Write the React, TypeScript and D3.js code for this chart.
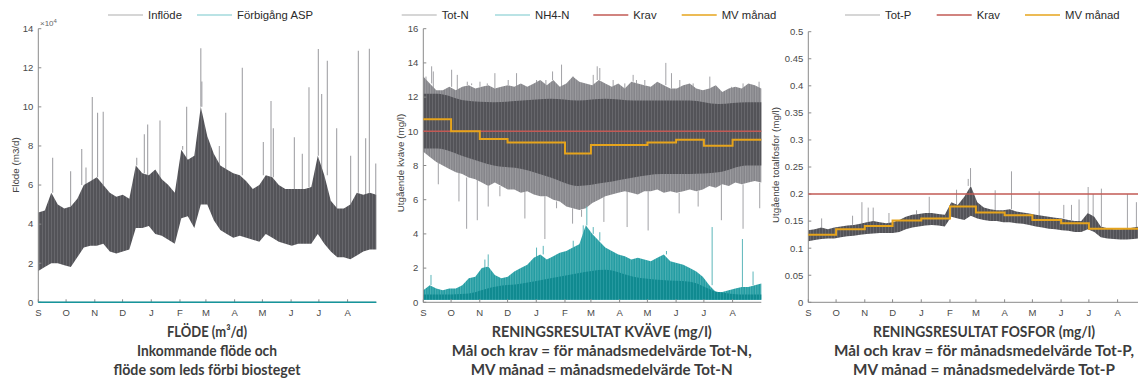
import React from "react";
import * as d3 from "d3";

// ---------- time frame ----------
const START = new Date(Date.UTC(2018, 8, 1));
const END = new Date(Date.UTC(2019, 8, 1));
const monthInitials = ["S", "O", "N", "D", "J", "F", "M", "A", "M", "J", "J", "A"];

// ---------- Panel 1: flow (x10^4 m3/d), weekly envelope ----------
const flowLow = [1.6, 1.8, 2.0, 2.0, 1.9, 1.8, 2.3, 2.8, 2.9, 2.9, 3.0, 2.6, 2.5, 2.6, 2.7, 3.8, 3.8, 3.9, 3.5, 3.4, 3.2, 3.0, 4.3, 4.4, 3.8, 5.0, 5.0, 4.2, 3.7, 3.5, 3.3, 3.4, 3.3, 3.2, 3.1, 3.5, 3.3, 3.1, 3.0, 2.9, 3.0, 3.0, 3.0, 3.5, 3.0, 2.6, 2.3, 2.3, 2.2, 2.4, 2.6, 2.7, 2.7];
const flowHigh = [4.6, 4.7, 5.6, 5.0, 4.8, 4.9, 5.3, 6.0, 6.2, 6.4, 6.0, 5.6, 5.4, 5.5, 5.3, 7.0, 6.6, 6.5, 6.8, 6.3, 6.0, 5.6, 7.8, 7.3, 7.5, 10.0, 8.5, 7.6, 7.0, 6.8, 6.6, 6.5, 6.2, 5.8, 6.0, 6.5, 6.4, 6.0, 5.8, 5.8, 5.8, 5.8, 5.9, 7.5, 6.5, 5.2, 4.8, 4.8, 5.0, 5.6, 5.5, 5.6, 5.5];
const flowSpikeDays = [15.5, 34.9, 46.9, 51.5, 58.3, 64.0, 70.1, 106.3, 114.5, 118.1, 131.4, 155.9, 160.2, 175.5, 176.6, 195.5, 202.4, 220.3, 243, 251.3, 253.8, 276.5, 285.1, 292.3, 302.4, 306.0, 312.1, 322.2, 337.3, 345.6, 353.5, 357.5, 364.4];
const flowSpikeValues = [7.4, 6.7, 7.85, 6.9, 10.5, 9.7, 9.75, 7.4, 8.6, 9.1, 9.3, 8.0, 10.0, 13.0, 11.3, 8.0, 9.7, 12.0, 8.2, 10.3, 8.9, 8.45, 7.6, 11.0, 12.96, 10.66, 12.36, 8.9, 7.5, 12.87, 8.4, 12.97, 7.1];
const bypassFlow = [0, 0];
const flowTicks = [0, 2, 4, 6, 8, 10, 12, 14];

// ---------- Panel 2: nitrogen (mg/l) ----------
const totNLow = [8.8, 8.5, 8.2, 8.0, 7.8, 7.6, 7.5, 7.3, 7.2, 7.0, 6.8, 7.0, 6.8, 6.6, 6.6, 6.4, 6.5, 6.3, 6.2, 6.2, 6.0, 5.9, 5.6, 5.5, 5.4, 5.5, 5.8, 6.0, 6.2, 6.3, 6.4, 6.5, 6.4, 6.3, 6.5, 6.5, 6.6, 6.4, 6.5, 6.4, 6.5, 6.6, 6.5, 6.6, 6.8, 6.7, 6.9, 6.8, 7.0, 6.9, 7.0, 7.1, 7.0];
const totNHigh = [13.2, 12.8, 12.4, 12.4, 12.6, 12.4, 12.6, 12.7, 12.5, 12.6, 12.7, 12.5, 12.6, 12.7, 12.6, 12.8, 12.6, 12.8, 13.0, 12.7, 13.0, 12.6, 12.8, 13.2, 12.9, 12.8, 12.7, 13.0, 12.8, 12.6, 12.8, 12.5, 12.9, 12.8, 12.7, 12.6, 12.9, 12.7, 12.5, 12.5, 12.7, 12.8, 12.5, 12.4, 12.5, 12.7, 12.3, 12.5, 12.6, 12.5, 12.8, 12.7, 12.5];
const totNCoreLow = [9.0, 8.5, 8.0, 7.8, 7.3, 6.8, 7.0, 7.3, 7.5, 7.5, 7.6, 8.0];
const totNCoreHigh = [12.2, 11.8, 11.7, 11.8, 11.9, 11.8, 11.9, 11.8, 11.8, 11.8, 11.6, 11.7];
const totNUpDays = [2.9, 9.0, 10.8, 30.6, 36.7, 47.5, 52.2, 61.2, 69.1, 77.3, 91.7, 100.7, 122.3, 132.4, 139.6, 149.3, 154.7, 161.9, 183.5, 187.8, 190.6, 205.0, 217.6, 226.6, 230.2, 239.2, 261.9, 268.0, 277.0, 291.4, 309.4, 332.7, 345.3, 362.6];
const totNUpValues = [13.0, 13.8, 13.5, 13.6, 13.3, 12.9, 12.8, 12.9, 12.8, 13.4, 13.0, 13.4, 13.0, 13.0, 13.5, 13.9, 12.8, 12.6, 13.3, 13.8, 13.7, 13.0, 12.8, 13.3, 13.0, 13.0, 14.0, 13.4, 13.0, 12.8, 13.2, 12.6, 12.8, 12.9];
const totNDownDays = [16.2, 38.5, 46.8, 58.3, 70.1, 82.7, 109.7, 131.3, 143.9, 161.2, 170.9, 195.0, 220.1, 242.8, 276.3, 296.8, 321.9, 345.3, 363.3];
const totNDownValues = [6.9, 5.9, 4.3, 4.8, 5.6, 6.2, 4.9, 3.7, 5.5, 4.6, 5.0, 4.7, 4.4, 4.2, 5.2, 5.6, 4.8, 4.3, 5.5];
const nh4Floor = 0.15;
const nh4High = [0.7, 1.0, 0.8, 0.7, 0.8, 0.8, 1.0, 1.4, 1.5, 2.0, 2.1, 1.6, 1.4, 1.5, 1.8, 2.0, 2.2, 2.6, 2.8, 2.5, 2.7, 2.9, 3.0, 3.2, 3.4, 4.5, 4.0, 3.6, 3.2, 3.0, 2.8, 2.7, 2.5, 2.6, 2.5, 2.4, 2.6, 2.8, 2.4, 2.3, 2.2, 2.0, 1.8, 1.5, 1.0, 0.6, 0.6, 0.7, 0.8, 0.9, 0.9, 1.0, 1.1];
const nh4Core = [0.45, 0.5, 0.9, 1.1, 1.4, 1.7, 1.9, 1.5, 1.3, 1.2, 0.6, 0.45];
const nh4SpikeDays = [8.3, 66.5, 70.1, 122.3, 129.5, 161.9, 172.7, 176.6, 183.5, 190.6, 262.6, 311.9, 344.6, 356.1];
const nh4SpikeValues = [1.6, 2.5, 2.8, 3.2, 3.3, 3.6, 3.9, 5.6, 4.4, 4.1, 3.0, 4.4, 3.7, 1.8];
const totNMonthly = [10.7, 10.0, 9.55, 9.35, 9.35, 8.7, 9.2, 9.2, 9.35, 9.5, 9.15, 9.5];
const totNLimit = 10;
const totNTicks = [0, 2, 4, 6, 8, 10, 12, 14, 16];

// ---------- Panel 3: phosphorus (mg/l) ----------
const totPLow = [0.113, 0.115, 0.117, 0.118, 0.118, 0.12, 0.122, 0.123, 0.125, 0.126, 0.127, 0.128, 0.128, 0.128, 0.13, 0.135, 0.138, 0.14, 0.142, 0.143, 0.142, 0.14, 0.158, 0.155, 0.152, 0.16, 0.155, 0.152, 0.15, 0.15, 0.148, 0.148, 0.146, 0.145, 0.143, 0.14, 0.138, 0.136, 0.135, 0.133, 0.132, 0.13, 0.13, 0.135, 0.13, 0.12, 0.118, 0.117, 0.116, 0.116, 0.117, 0.118, 0.12];
const totPHigh = [0.133, 0.135, 0.138, 0.135, 0.138, 0.14, 0.142, 0.143, 0.145, 0.148, 0.15, 0.148, 0.146, 0.148, 0.152, 0.158, 0.162, 0.163, 0.165, 0.165, 0.163, 0.162, 0.185, 0.18, 0.195, 0.215, 0.185, 0.175, 0.172, 0.17, 0.17, 0.172, 0.168, 0.166, 0.164, 0.162, 0.16, 0.158, 0.156, 0.155, 0.152, 0.15, 0.15, 0.165, 0.158, 0.14, 0.137, 0.135, 0.135, 0.136, 0.138, 0.14, 0.14];
const totPSpikeDays = [14.4, 47.8, 57.9, 64.7, 70.1, 87.1, 116.9, 130.6, 160.1, 172.7, 175.2, 201.8, 219.4, 249.3, 275.9, 284.2, 292.4, 302.2, 307.6, 316.5, 344.6, 354.3];
const totPSpikeValues = [0.155, 0.16, 0.185, 0.175, 0.175, 0.165, 0.17, 0.195, 0.208, 0.228, 0.248, 0.207, 0.242, 0.205, 0.18, 0.18, 0.19, 0.213, 0.2, 0.21, 0.2, 0.185];
const totPMonthly = [0.125, 0.135, 0.141, 0.151, 0.155, 0.177, 0.166, 0.161, 0.152, 0.146, 0.136, 0.136];
const totPLimit = 0.2;
const totPTicks = [0, 0.05, 0.1, 0.15, 0.2, 0.25, 0.3, 0.35, 0.4, 0.45, 0.5];

// ---------- helpers ----------
const DAY = 864e5;
const dayDate = (d: number) => new Date(START.getTime() + d * DAY);
const sampleDate = (i: number, n: number) => dayDate((i * 365) / (n - 1));
const monthStart = (m: number) => d3.utcMonth.offset(START, m);
const monthMid = (m: number) => new Date((monthStart(m).getTime() + monthStart(m + 1).getTime()) / 2);

const C = {
  axis: "#8a8a8a",
  tick: "#4a4a4a",
  spike: "#a2a2a6",
  teal: "#16959b",
  tealSpike: "#5cb6ba",
  tealLeg: "#a3dadd",
  grayLeg: "#c9c9c9",
  krav: "#c25a55",
  mv: "#e6a41c",
  title: "#3c3c3c",
};
const TICK_FONT = "'Liberation Sans', Arial, sans-serif";
const TITLE_FONT = "Lato, 'Open Sans', sans-serif";

type Geo = { x0: number; x1: number; yTop: number; yBot: number; max: number };

function makeScales(g: Geo) {
  const x = d3.scaleUtc().domain([START, END]).range([g.x0, g.x1]);
  const y = d3.scaleLinear().domain([0, g.max]).range([g.yBot, g.yTop]);
  return { x, y };
}

function weeklyArea(x: any, y: any, low: number[], high: number[]) {
  const n = high.length;
  return d3
    .area<number>()
    .x((_, i) => x(sampleDate(i, n)))
    .y0((_, i) => y(low[i]))
    .y1((v) => y(v))(high) as string;
}

function monthlyArea(x: any, y: any, low: (m: number) => number, high: number[]) {
  const pts = [
    { d: START, lo: low(0), hi: high[0] },
    ...high.map((v, m) => ({ d: monthMid(m), lo: low(m), hi: v })),
    { d: END, lo: low(11), hi: high[11] },
  ];
  return d3
    .area<any>()
    .x((p) => x(p.d))
    .y0((p) => y(p.lo))
    .y1((p) => y(p.hi))
    .curve(d3.curveMonotoneX)(pts) as string;
}

function stepLine(x: any, y: any, vals: number[]) {
  const pts = [...vals.map((v, m) => ({ d: monthStart(m), v })), { d: END, v: vals[vals.length - 1] }];
  return d3
    .line<any>()
    .x((p) => x(p.d))
    .y((p) => y(p.v))
    .curve(d3.curveStepAfter)(pts) as string;
}

function nearest(arr: number[], day: number) {
  return arr[Math.round((day / 365) * (arr.length - 1))];
}

function Spikes({ x, y, days, values, base, color, width = 1 }: any) {
  return (
    <g stroke={color} strokeWidth={width}>
      {days.map((d: number, i: number) => (
        <line key={i} x1={x(dayDate(d))} x2={x(dayDate(d))} y1={y(nearest(base, d))} y2={y(values[i])} />
      ))}
    </g>
  );
}

function Axes({ x, y, g, ticks, fmt }: any) {
  const months = d3.utcMonth.range(START, END);
  return (
    <g fontFamily={TICK_FONT} fontSize={9.5} fill={C.tick}>
      <line x1={g.x0} x2={g.x0} y1={g.yBot} y2={y(g.max)} stroke={C.axis} strokeWidth={1} />
      <line x1={g.x0} x2={g.x1} y1={g.yBot} y2={g.yBot} stroke={C.axis} strokeWidth={1} />
      {ticks.map((t: number) => (
        <g key={t}>
          <line x1={g.x0} x2={g.x0 + 3} y1={y(t)} y2={y(t)} stroke={C.axis} />
          <text x={g.x0 - 5} y={y(t)} dy="0.35em" textAnchor="end">
            {fmt(t)}
          </text>
        </g>
      ))}
      {months.map((m, i) => (
        <g key={i}>
          <line x1={x(m)} x2={x(m)} y1={g.yBot} y2={g.yBot - 3} stroke={C.axis} />
          <text x={x(m)} y={316} textAnchor="middle">
            {monthInitials[i]}
          </text>
        </g>
      ))}
    </g>
  );
}

function Legend({ items }: { items: { x: number; label: string; color: string }[] }) {
  return (
    <g fontFamily={TICK_FONT} fontSize={11.3} fill="#2a2a2a">
      {items.map((it) => (
        <g key={it.label}>
          <line x1={it.x} x2={it.x + 35} y1={15} y2={15} stroke={it.color} strokeWidth={1.6} />
          <text x={it.x + 40} y={15} dy="0.35em">
            {it.label}
          </text>
        </g>
      ))}
    </g>
  );
}

function Title({ cx, lines }: { cx: number; lines: { t: string; w: number }[] }) {
  const ys = [337, 356, 374.5];
  return (
    <g fontFamily={TITLE_FONT} fontWeight={700} fontSize={15} fill={C.title} textAnchor="middle">
      {lines.map((l, i) => (
        <text key={i} x={cx} y={ys[i]} textLength={l.w} lengthAdjust="spacingAndGlyphs">
          {l.t}
        </text>
      ))}
    </g>
  );
}

function Stripes({ id, base, line, period = 3 }: { id: string; base: string; line: string; period?: number }) {
  return (
    <pattern id={id} width={period} height={6} patternUnits="userSpaceOnUse">
      <rect width={period} height={6} fill={base} />
      <rect width={1} height={6} fill={line} />
    </pattern>
  );
}

const numFmt = (v: number) => String(+v.toFixed(2));

export default function App() {
  const g1: Geo = { x0: 38.3, x1: 376.3, yTop: 28.7, yBot: 302.3, max: 14 };
  const s1 = makeScales(g1);
  const g2: Geo = { x0: 423.3, x1: 761.3, yTop: 28.7, yBot: 302.3, max: 16 };
  const s2 = makeScales(g2);
  const g3: Geo = { x0: 808.3, x1: 1146.3, yTop: 31.7, yBot: 302.3, max: 0.5 };
  const s3 = makeScales(g3);

  const bypassPath = d3
    .line<number>()
    .x((_, i) => s1.x(i === 0 ? START : END))
    .y((v) => s1.y(v))(bypassFlow) as string;

  return (
    <svg width={1138} height={381} style={{ position: "absolute", left: 0, top: 0, background: "#fff" }}>
      <defs>
        <Stripes id="texDark" base="#535358" line="#67676c" />
        <Stripes id="texMid" base="#85858a" line="#9c9ca0" period={2.5} />
        <Stripes id="texTeal" base="#108a90" line="#2599a0" />
        <Stripes id="texTealOuter" base="#239ca2" line="#4db1b5" period={2.5} />
      </defs>
      <rect width={1138} height={381} fill="#fff" />

      {/* ---------- Panel 1 ---------- */}
      <Legend
        items={[
          { x: 108, label: "Inflöde", color: C.grayLeg },
          { x: 197, label: "Förbigång ASP", color: C.tealLeg },
        ]}
      />
      <Spikes x={s1.x} y={s1.y} days={flowSpikeDays} values={flowSpikeValues} base={flowHigh} color={C.spike} width={1.1} />
      <path d={weeklyArea(s1.x, s1.y, flowLow, flowHigh)} fill="url(#texDark)" />
      <Axes x={s1.x} y={s1.y} g={g1} ticks={flowTicks} fmt={numFmt} />
      <path d={bypassPath} stroke={C.teal} strokeWidth={1.4} fill="none" />
      <text x={40} y={26} fontFamily={TICK_FONT} fontSize={8} fill="#666">
        ×10<tspan dy={-3} fontSize={6}>4</tspan>
      </text>
      <text transform={`translate(19,165) rotate(-90)`} textAnchor="middle" fontFamily={TICK_FONT} fontSize={9.8} fill="#444">
        Flöde (m3/d)
      </text>
      <Title
        cx={207}
        lines={[
          { t: "FLÖDE (m³/d)", w: 80 },
          { t: "Inkommande flöde och", w: 140 },
          { t: "flöde som leds förbi biosteget", w: 187 },
        ]}
      />

      {/* ---------- Panel 2 ---------- */}
      <Legend
        items={[
          { x: 401.7, label: "Tot-N", color: C.grayLeg },
          { x: 495, label: "NH4-N", color: C.tealLeg },
          { x: 593.3, label: "Krav", color: C.krav },
          { x: 681.7, label: "MV månad", color: C.mv },
        ]}
      />
      <Spikes x={s2.x} y={s2.y} days={totNUpDays} values={totNUpValues} base={totNHigh} color={C.spike} />
      <Spikes x={s2.x} y={s2.y} days={totNDownDays} values={totNDownValues} base={totNLow} color={C.spike} />
      <path d={weeklyArea(s2.x, s2.y, totNLow, totNHigh)} fill="url(#texMid)" />
      <path d={monthlyArea(s2.x, s2.y, (m) => totNCoreLow[m], totNCoreHigh)} fill="url(#texDark)" />
      <Spikes x={s2.x} y={s2.y} days={nh4SpikeDays} values={nh4SpikeValues} base={nh4High} color={C.tealSpike} />
      <path d={weeklyArea(s2.x, s2.y, nh4High.map(() => nh4Floor), nh4High)} fill="url(#texTealOuter)" />
      <path d={monthlyArea(s2.x, s2.y, () => nh4Floor, nh4Core)} fill="url(#texTeal)" />
      <Axes x={s2.x} y={s2.y} g={g2} ticks={totNTicks} fmt={numFmt} />
      <line x1={g2.x0} x2={g2.x1} y1={s2.y(totNLimit)} y2={s2.y(totNLimit)} stroke={C.krav} strokeWidth={1.4} />
      <path d={stepLine(s2.x, s2.y, totNMonthly)} stroke={C.mv} strokeWidth={2} fill="none" />
      <text transform={`translate(404,163) rotate(-90)`} textAnchor="middle" fontFamily={TICK_FONT} fontSize={9.8} fill="#444">
        Utgående kväve (mg/l)
      </text>
      <Title
        cx={601.7}
        lines={[
          { t: "RENINGSRESULTAT KVÄVE (mg/l)", w: 220 },
          { t: "Mål och krav = för månadsmedelvärde Tot-N,", w: 300 },
          { t: "MV månad = månadsmedelvärde Tot-N", w: 262 },
        ]}
      />

      {/* ---------- Panel 3 ---------- */}
      <Legend
        items={[
          { x: 845, label: "Tot-P", color: C.grayLeg },
          { x: 936.7, label: "Krav", color: C.krav },
          { x: 1025, label: "MV månad", color: C.mv },
        ]}
      />
      <Spikes x={s3.x} y={s3.y} days={totPSpikeDays} values={totPSpikeValues} base={totPHigh} color={C.spike} />
      <path d={weeklyArea(s3.x, s3.y, totPLow, totPHigh)} fill="url(#texDark)" />
      <Axes x={s3.x} y={s3.y} g={g3} ticks={totPTicks} fmt={numFmt} />
      <line x1={g3.x0} x2={g3.x1} y1={s3.y(totPLimit)} y2={s3.y(totPLimit)} stroke={C.krav} strokeWidth={1.4} />
      <path d={stepLine(s3.x, s3.y, totPMonthly)} stroke={C.mv} strokeWidth={2} fill="none" />
      <text transform={`translate(779,165) rotate(-90)`} textAnchor="middle" fontFamily={TICK_FONT} fontSize={9.8} fill="#444">
        Utgående totalfosfor (mg/l)
      </text>
      <Title
        cx={984}
        lines={[
          { t: "RENINGSRESULTAT FOSFOR (mg/l)", w: 222 },
          { t: "Mål och krav = för månadsmedelvärde Tot-P,", w: 300 },
          { t: "MV månad = månadsmedelvärde Tot-P", w: 262 },
        ]}
      />
    </svg>
  );
}
